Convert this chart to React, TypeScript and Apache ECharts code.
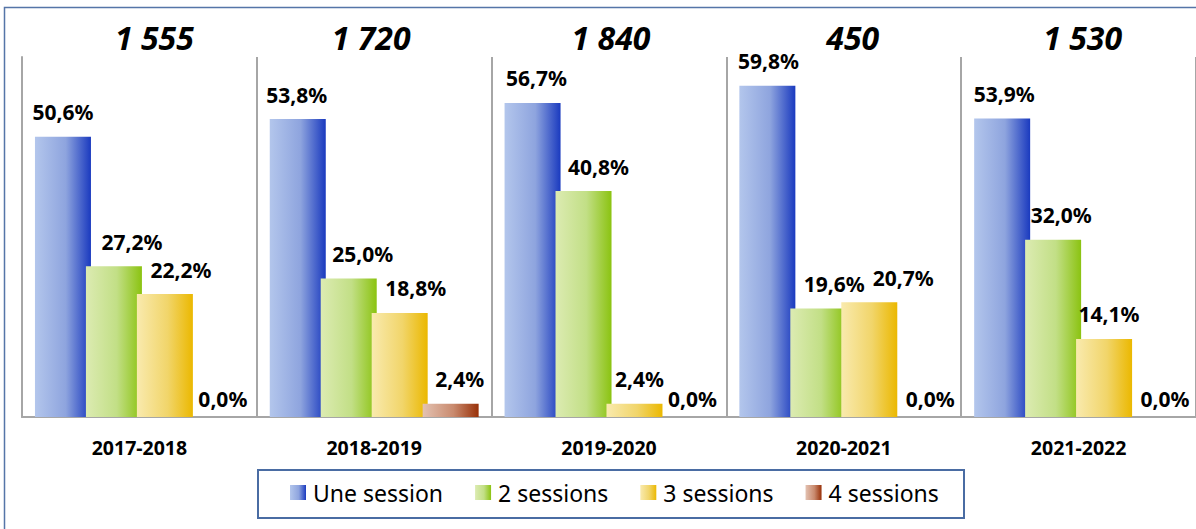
import React, { useEffect, useRef } from "react";
import * as echarts from "echarts";

const categories = ["2017-2018", "2018-2019", "2019-2020", "2020-2021", "2021-2022"];
const totals = [1555, 1720, 1840, 450, 1530];
const seriesNames = ["Une session", "2 sessions", "3 sessions", "4 sessions"];
const uneSession = [50.6, 53.8, 56.7, 59.8, 53.9];
const deuxSessions = [27.2, 25.0, 40.8, 19.6, 32.0];
const troisSessions = [22.2, 18.8, 2.4, 20.7, 14.1];
const quatreSessions = [0.0, 2.4, 0.0, 0.0, 0.0];

const FONT = "'Noto Sans', 'DejaVu Sans', sans-serif";

const grad = (c0: string, c1: string, c2: string) =>
  new echarts.graphic.LinearGradient(0, 0, 1, 0, [
    { offset: 0, color: c0 },
    { offset: 0.55, color: c1 },
    { offset: 1, color: c2 },
  ]);

const fmtPct = (v: number) => v.toFixed(1).replace(".", ",") + "%";
const fmtTotal = (v: number) => String(v).replace(/\B(?=(\d{3})+(?!\d))/g, " ");

export default function App() {
  const ref = useRef<HTMLDivElement>(null);

  useEffect(() => {
    document.body.style.margin = "0";
    if (!ref.current) return;
    const chart = echarts.init(ref.current, null, { renderer: "svg" });

    const colors = [
      grad("#b3c6ec", "#8ea4de", "#1a3abf"),
      grad("#dcebb2", "#c2df86", "#8bc311"),
      grad("#f9eaae", "#f1d56a", "#ebb800"),
      grad("#e3c2b2", "#c98a6e", "#983008"),
    ];
    const dataSets = [uneSession, deuxSessions, troisSessions, quatreSessions];
    // horizontal label nudges (styling), per series / category
    const labelDx = [
      [0, -1, 4, 1, 2],
      [18, 14, 15, 16, 8],
      [16, 16, 5, 34, 5],
      [7, 9, 7, 10, 10],
    ];
    const totalDx = [15, -3, 2, 9, 4];

    const series = seriesNames.map((name, i) => ({
      name,
      type: "bar",
      xAxisIndex: 0,
      barWidth: 56,
      barGap: "-9%",
      itemStyle: { color: colors[i] },
      data: dataSets[i].map((v, j) => ({
        value: v,
        label: { distance: v === 0 ? 8 : 14, offset: [labelDx[i][j], 0] },
      })),
      label: {
        show: true,
        position: "top",
        formatter: (p: any) => fmtPct(p.value),
        fontFamily: FONT,
        fontWeight: "bold",
        fontSize: 21,
        color: "#000",
      },
    }));

    const totalRich: any = {};
    totalDx.forEach((dx, i) => {
      totalRich["t" + i] = {
        fontFamily: FONT,
        fontWeight: "bold",
        fontStyle: "italic",
        fontSize: 32,
        color: "#000",
        padding: dx >= 0 ? [0, 0, 0, 2 * dx] : [0, -2 * dx, 0, 0],
      };
    });

    chart.setOption({
      animation: false,
      backgroundColor: "#fff",
      grid: { left: 22, right: -2, top: 57, bottom: 112, containLabel: false },
      xAxis: [
        {
          type: "category",
          data: categories,
          position: "bottom",
          axisLine: { show: true, lineStyle: { color: "#a6a6a6", width: 2 } },
          axisTick: { show: false },
          splitLine: { show: true, lineStyle: { color: "#a6a6a6", width: 2 } },
          axisLabel: {
            margin: 20,
            fontFamily: FONT,
            fontWeight: "bold",
            fontSize: 19.5,
            color: "#000",
          },
        },
        {
          type: "category",
          data: totals.map(fmtTotal),
          position: "top",
          axisLine: { show: false },
          axisTick: { show: false },
          splitLine: { show: false },
          axisLabel: {
            margin: 4,
            formatter: (v: string, idx: number) => "{t" + idx + "|" + v + "}",
            rich: totalRich,
            fontFamily: FONT,
            fontWeight: "bold",
            fontStyle: "italic",
            fontSize: 32,
            color: "#000",
          },
        },
      ],
      yAxis: {
        type: "value",
        min: 0,
        max: 65,
        axisLine: { show: true, lineStyle: { color: "#a6a6a6", width: 2 } },
        axisTick: { show: false },
        axisLabel: { show: false },
        splitLine: { show: false },
      },
      legend: {
        data: seriesNames,
        left: 290,
        top: 481,
        padding: 0,
        itemWidth: 16,
        itemHeight: 15,
        itemGap: 32,
        icon: "rect",
        textStyle: {
          fontFamily: FONT,
          fontSize: 23,
          color: "#000",
          padding: [0, 0, 0, 2],
        },
      },
      graphic: [
        {
          type: "rect",
          shape: { x: 4.5, y: 7.5, width: 1300, height: 600 },
          style: { fill: "none", stroke: "#5575a8", lineWidth: 1.5 },
          silent: true,
        },
        {
          type: "rect",
          shape: { x: 258, y: 470, width: 706, height: 48 },
          style: { fill: "none", stroke: "#4a6ca3", lineWidth: 2 },
          silent: true,
        },
      ],
      series,
    });

    return () => chart.dispose();
  }, []);

  return <div ref={ref} style={{ width: 1196, height: 529 }} />;
}
